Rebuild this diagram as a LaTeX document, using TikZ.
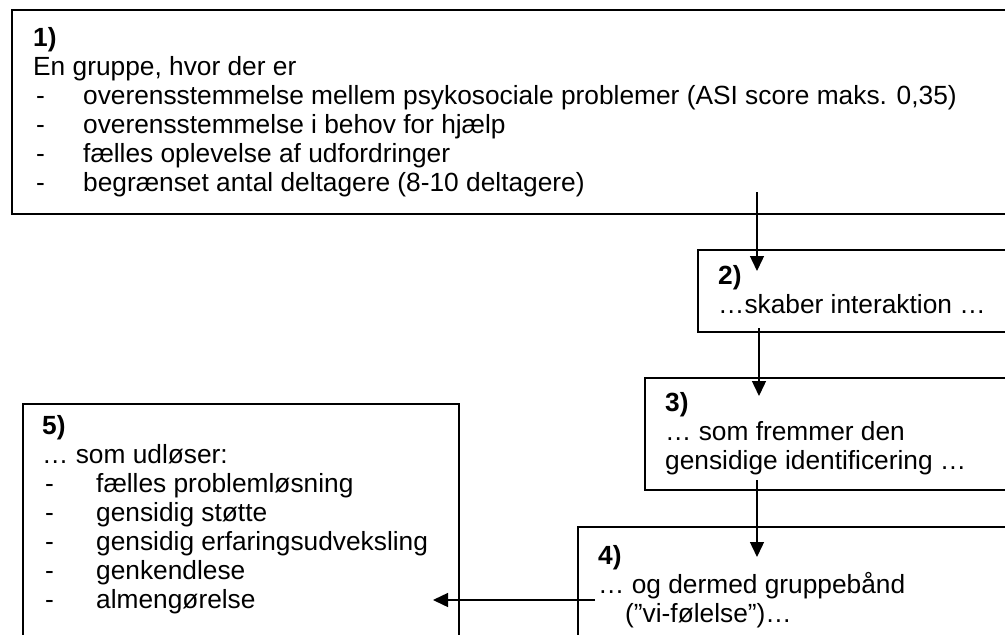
\documentclass[tikz,border=0pt]{standalone}
\usepackage{fontspec}
\setmainfont{Liberation Sans}
\usetikzlibrary{arrows.meta}
\newcommand{\dashitem}[2][50pt]{\makebox[#1][l]{\hspace{3pt}-}#2}
\newcommand{\boxfont}{\fontsize{26.3}{29}\selectfont}
\begin{document}
\begin{tikzpicture}[x=1pt,y=-1pt,
  boxshape/.style={draw, line width=1.8pt, rectangle, inner sep=0pt, anchor=north west},
  txt/.style={anchor=base west, inner sep=0pt, font=\boxfont},
  arr/.style={line width=1.4pt, -{Triangle[width=14pt,length=15pt]}}]
\useasboundingbox (0,0) rectangle (1005,635);
\clip (0,0) rectangle (1005,635);
\fill[white] (0,0) rectangle (1005,635);
% boxes
\node[boxshape, minimum width=1020pt, minimum height=204pt] (b1) at (11,9) {};
\node[boxshape, minimum width=330pt, minimum height=82pt] (b2) at (697,249) {};
\node[boxshape, minimum width=380pt, minimum height=112pt] (b3) at (644,377) {};
\node[boxshape, minimum width=450pt, minimum height=130pt] (b4) at (577,526) {};
\node[boxshape, minimum width=436pt, minimum height=250pt] (b5) at (22,403) {};
% texts
\node[txt] (t1) at (33,46) {\parbox[t]{960pt}{\boxfont\raggedright
  \textbf{1)}\\
  En gruppe, hvor der er\\
  \dashitem{overensstemmelse mellem psykosociale problemer (ASI score maks. 0,35)}\\
  \dashitem{overensstemmelse i behov for hjælp}\\
  \dashitem{fælles oplevelse af udfordringer}\\
  \dashitem{begrænset antal deltagere (8-10 deltagere)}}};
\node[txt] (t2) at (718,284) {\parbox[t]{280pt}{\boxfont\raggedright
  \textbf{2)}\\
  …skaber interaktion …}};
\node[txt] (t3) at (665,411) {\parbox[t]{340pt}{\boxfont\raggedright
  \textbf{3)}\\
  … som fremmer den\\
  gensidige identificering …}};
\node[txt] (t4) at (598,564) {\parbox[t]{400pt}{\boxfont\raggedright
  \textbf{4)}\\
  … og dermed gruppebånd\\
  \hspace*{27pt}(”vi-følelse”)…}};
\node[txt] (t5) at (42,434) {\parbox[t]{410pt}{\boxfont\raggedright
  \textbf{5)}\\
  … som udløser:\\
  \dashitem[54pt]{fælles problemløsning}\\
  \dashitem[54pt]{gensidig støtte}\\
  \dashitem[54pt]{gensidig erfaringsudveksling}\\
  \dashitem[54pt]{genkendlese}\\
  \dashitem[54pt]{almengørelse}}};
% connectors
\coordinate (a1s) at (757,192);
\coordinate (a1e) at (757,271);
\coordinate (a2s) at (759,328);
\coordinate (a2e) at (759,396);
\coordinate (a3s) at (757,480);
\coordinate (a3e) at (757,557);
\coordinate (a4s) at (595,600);
\coordinate (a4e) at (433,600);
\draw[arr] (a1s) -- (a1e);
\draw[arr] (a2s) -- (a2e);
\draw[arr] (a3s) -- (a3e);
\draw[arr] (a4s) -- (a4e);
\end{tikzpicture}
\end{document}
